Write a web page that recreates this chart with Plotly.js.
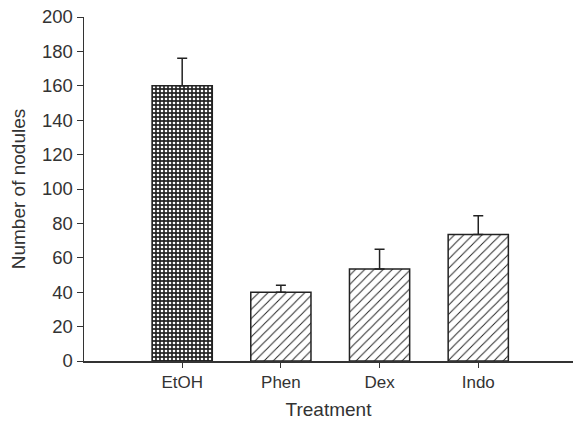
<!DOCTYPE html>
<html>
<head>
<meta charset="utf-8">
<script src="https://cdn.plot.ly/plotly-3.0.1.min.js"></script>
<style>html,body{margin:0;padding:0;background:#fff;}#chart{width:573px;height:421px;}</style>
</head>
<body>
<div id="chart"></div>
<script>
const categories = ["EtOH", "Phen", "Dex", "Indo"];
const nodules = [160, 40, 53.5, 73.5];
const errorsUp = [16, 4, 11.5, 11];
const yTicks = [0, 20, 40, 60, 80, 100, 120, 140, 160, 180, 200];

const traceEtOH = {
  type: "bar",
  x: [categories[0]],
  y: [nodules[0]],
  width: 0.61,
  marker: {
    color: "#ffffff",
    line: {color: "#222", width: 1.5},
    pattern: {shape: ".", bgcolor: "#262626", fgcolor: "#ffffff", size: 4, solidity: 0.35, fillmode: "replace"}
  },
  error_y: {type: "data", symmetric: false, array: [errorsUp[0]], arrayminus: [0], color: "#222", thickness: 1.5, width: 5},
  showlegend: false,
  hoverinfo: "skip"
};
const traceOthers = {
  type: "bar",
  x: categories.slice(1),
  y: nodules.slice(1),
  width: 0.61,
  marker: {
    color: "#ffffff",
    line: {color: "#222", width: 1.5},
    pattern: {shape: "/", bgcolor: "#ffffff", fgcolor: "#222", size: 6.5, solidity: 0.15, fillmode: "replace"}
  },
  error_y: {type: "data", symmetric: false, array: errorsUp.slice(1), arrayminus: [0, 0, 0], color: "#222", thickness: 1.5, width: 5},
  showlegend: false,
  hoverinfo: "skip"
};

const layout = {
  width: 573, height: 421,
  margin: {l: 84, r: 0, t: 17, b: 60},
  paper_bgcolor: "#fff", plot_bgcolor: "#fff",
  font: {family: "Liberation Sans, Arial, sans-serif", color: "#333"},
  bargap: 0,
  xaxis: {
    type: "category",
    categoryarray: categories,
    range: [-0.995, 3.96],
    showline: true, linecolor: "#333", linewidth: 1.5,
    ticks: "outside", ticklen: 5, tickcolor: "#333", tickwidth: 1,
    showgrid: false, zeroline: false,
    tickfont: {size: 17, color: "#333"},
    title: {text: "Treatment", font: {size: 19, color: "#333"}, standoff: 12}
  },
  yaxis: {
    range: [0, 200],
    tickvals: yTicks,
    showline: true, linecolor: "#333", linewidth: 1.5,
    ticks: "outside", ticklen: 6, tickcolor: "#333", tickwidth: 1,
    showgrid: false, zeroline: false,
    tickfont: {size: 18.5, color: "#333"},
    title: {text: "Number of nodules", font: {size: 19, color: "#333"}, standoff: 11}
  }
};

Plotly.newPlot("chart", [traceEtOH, traceOthers], layout, {staticPlot: true, displayModeBar: false});
</script>
</body>
</html>
